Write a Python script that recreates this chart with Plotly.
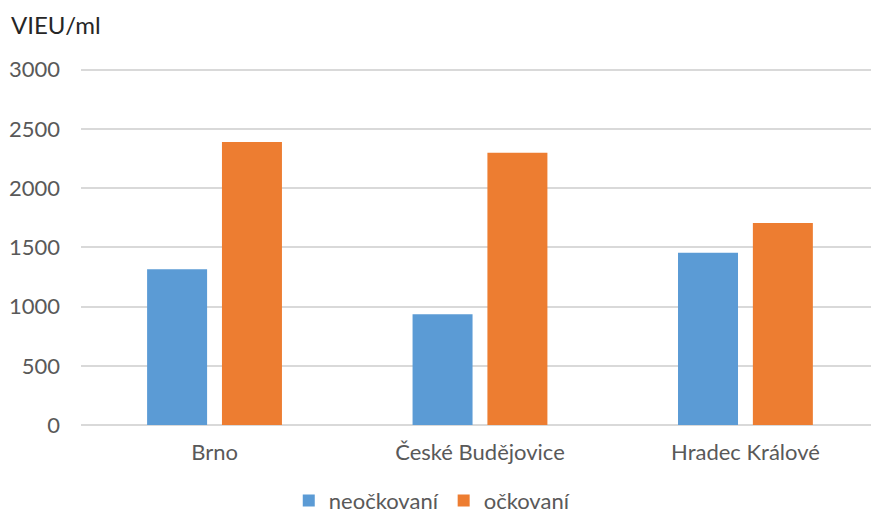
import plotly.graph_objects as go

# Data
cities = ["Brno", "České Budějovice", "Hradec Králové"]
neockovani = [1315, 935, 1455]
ockovani = [2390, 2300, 1705]
y_ticks = [0, 500, 1000, 1500, 2000, 2500, 3000]

BLUE = "#5B9BD5"
ORANGE = "#ED7D31"
FONT = "Lato, 'Open Sans', sans-serif"
GREY = "#595959"
TICK_SIZE = 22

x_idx = list(range(len(cities)))

fig = go.Figure()
fig.add_trace(go.Bar(
    x=x_idx, y=neockovani, name="neočkovaní",
    marker=dict(color=BLUE, line=dict(width=0)),
    width=0.226, offset=-0.254,
))
fig.add_trace(go.Bar(
    x=x_idx, y=ockovani, name="očkovaní",
    marker=dict(color=ORANGE, line=dict(width=0)),
    width=0.226, offset=0.028,
))

fig.update_layout(
    width=871, height=518,
    margin=dict(l=81, r=0, t=68, b=93, autoexpand=False),
    plot_bgcolor="white", paper_bgcolor="white",
    barmode="group",
    font=dict(family=FONT, size=TICK_SIZE, color=GREY),
    showlegend=True,
    legend=dict(
        orientation="h", x=0.444, xanchor="center", y=-0.212, yanchor="middle",
        font=dict(family=FONT, size=TICK_SIZE, color=GREY),
        itemwidth=30, traceorder="normal",
    ),
    xaxis=dict(
        tickmode="array", tickvals=x_idx, ticktext=cities,
        range=[-0.503, 2.473],
        showgrid=False, zeroline=False, showline=False,
        ticks="", ticklabelstandoff=12,
        tickfont=dict(family=FONT, size=TICK_SIZE, color=GREY),
    ),
    yaxis=dict(
        range=[0, 3015], tickvals=y_ticks,
        showgrid=True, gridcolor="#D9D9D9", gridwidth=1.5,
        zeroline=True, zerolinecolor="#D9D9D9", zerolinewidth=1.5,
        showline=False, ticks="", ticklabelstandoff=20,
        tickfont=dict(family=FONT, size=TICK_SIZE, color=GREY),
    ),
    annotations=[dict(
        text="VIEU/ml", xref="paper", yref="paper",
        x=-81 / 790, y=1, xanchor="left", yanchor="middle", yshift=44,
        showarrow=False, font=dict(family=FONT, size=24, color="#262626"),
        xshift=9,
    )],
)

fig.write_html("out.html")
